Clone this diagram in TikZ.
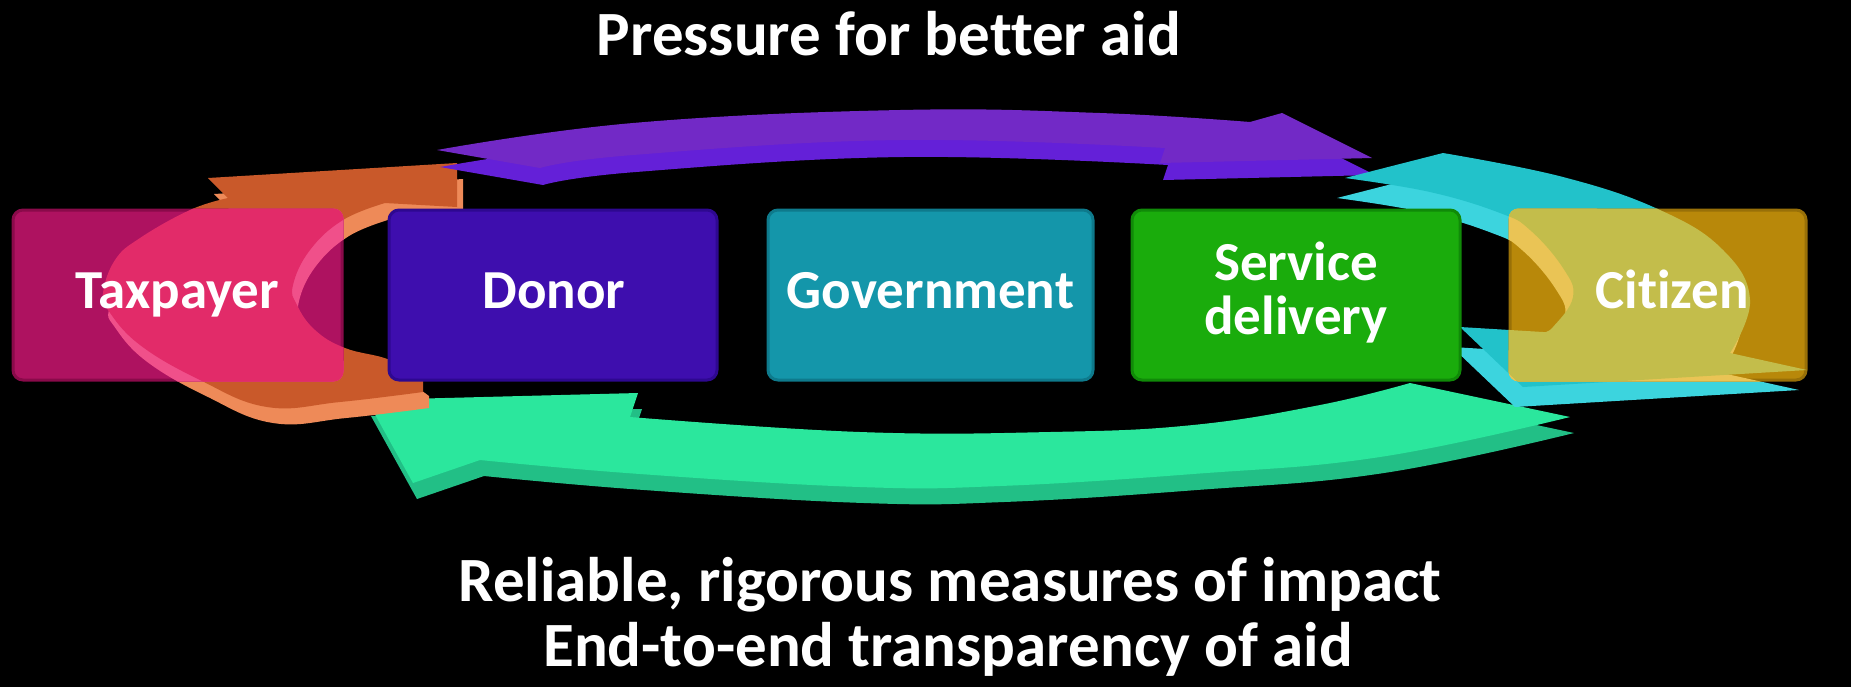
\documentclass[tikz,border=0pt]{standalone}
\usepackage{fontspec}
\setmainfont{Carlito}[Ligatures=NoCommon]
\definecolor{taxc}{HTML}{AE1260}
\definecolor{taxd}{HTML}{8A0A4A}
\definecolor{donc}{HTML}{3E0EAE}
\definecolor{dond}{HTML}{2E0890}
\definecolor{govc}{HTML}{1496AA}
\definecolor{govd}{HTML}{0E7A8C}
\definecolor{svcc}{HTML}{1AAC0C}
\definecolor{svcd}{HTML}{108A08}
\definecolor{citc}{HTML}{B8880A}
\definecolor{citd}{HTML}{987008}
\definecolor{grtop}{HTML}{2BE79D}
\definecolor{grside}{HTML}{22BF86}
\definecolor{putop}{HTML}{7229C6}
\definecolor{puside}{HTML}{6420D8}
\definecolor{ortop}{HTML}{C9592A}
\definecolor{orside}{HTML}{EE8A58}
\definecolor{cytop}{HTML}{22C2CA}
\definecolor{cyside}{HTML}{3CD4DE}
\definecolor{pinktop}{HTML}{E22B69}
\definecolor{pinkside}{HTML}{F0508A}
\definecolor{olivetop}{HTML}{C3BD4B}
\definecolor{oliveside}{HTML}{EAC455}
\begin{document}
\begin{tikzpicture}[x=0.5pt,y=-0.5pt,
  box/.style={rounded corners=5pt, minimum height=85pt, inner sep=0pt, line width=1.5pt},
  lbl/.style={text=white, font=\fontsize{27.5}{30}\selectfont\bfseries, anchor=base, inner sep=0pt},
  ttl/.style={text=white, font=\fontsize{31.5}{34}\selectfont\bfseries, anchor=base, inner sep=0pt}]
\useasboundingbox (0,0) rectangle (1851,687);
\fill[black] (0,0) rectangle (1851,687);

\def\greenpath{(367,400) -- (638,393) -- (630,417) -- plot[smooth,tension=0.7] coordinates {(630,417) (860,432) (1050,432) (1193,425) (1320,405) (1410,383)} -- (1570,417) -- plot[smooth,tension=0.7] coordinates {(1570,417) (1380,457) (1193,474) (1000,486) (860,487) (640,474) (480,460)} -- (413,483) -- cycle}
\def\purplepath{(437,150) -- plot[smooth,tension=0.7] coordinates {(437,150) (633,123) (900,110) (1100,113) (1250,122)} -- (1282,113) -- (1372,158) -- (1160,163) -- (1165,148) -- plot[smooth,tension=0.7] coordinates {(1165,148) (900,140) (633,155) (540,168)} -- cycle}
\def\orangepath{(208,178) -- (457,163) -- (457,207) -- (385,203) -- plot[smooth,tension=0.7] coordinates {(385,203) (343,220) (310,250) (293,285) (297,305) (315,330) (345,348) (390,360) (423,380)} -- (423,392) -- plot[smooth,tension=0.7] coordinates {(423,392) (340,402) (267,407) (200,380) (140,345) (108,310) (103,293) (115,260) (140,238) (190,210) (228,198)} -- cycle}
\def\cyanpath{(1345,178) -- (1443,153) -- plot[smooth,tension=0.7] coordinates {(1443,153) (1563,177) (1660,210) (1723,250) (1750,300) (1730,353)} -- (1807,370) -- (1523,387) -- (1460,327) -- (1543,332) -- plot[smooth,tension=0.7] coordinates {(1543,332) (1553,327) (1573,297) (1563,268) (1530,230) (1500,213) (1430,192) (1345,178)} -- cycle}

% arrows
\fill[grside, shift={(4,16)}] \greenpath;
\fill[grtop] \greenpath;
\fill[orside, shift={(6,16)}] \orangepath;
\fill[ortop] \orangepath;
\fill[puside, shift={(3,17)}] \purplepath;
\fill[putop] \purplepath;
\fill[cyside, shift={(-8,20)}] \cyanpath;
\fill[cytop] \cyanpath;

% boxes
\node[box, fill=taxc, draw=taxd, minimum width=164.5pt] (taxbox) at (177.5,295) {};
\node[box, fill=donc, draw=dond, minimum width=164pt] (donbox) at (553,295) {};
\node[box, fill=govc, draw=govd, minimum width=162.5pt] (govbox) at (930.5,295) {};
\node[box, fill=svcc, draw=svcd, minimum width=164pt] (svcbox) at (1296,295) {};
\node[box, fill=citc, draw=citd, minimum width=148pt] (citbox) at (1658,295) {};

% see-through overlaps
\begin{scope}
\clip[rounded corners=5pt] (taxbox.south west) rectangle (taxbox.north east);
\fill[pinkside, shift={(6,16)}] \orangepath;
\fill[pinktop] \orangepath;
\end{scope}
\begin{scope}
\clip[rounded corners=5pt] (citbox.south west) rectangle (citbox.north east);
\fill[oliveside, shift={(-8,20)}] \cyanpath;
\fill[olivetop] \cyanpath;
\end{scope}

% labels
\node[lbl] (tax) at (177.5,308) {Taxpayer};
\node[lbl] (don) at (554,308) {Donor};
\node[lbl] (gov) at (930.5,308) {Government};
\node[lbl] (svc1) at (1296,280) {Service};
\node[lbl] (svc2) at (1296,334) {delivery};
\node[lbl] (cit) at (1672,308) {Citizen};

\node[ttl] (title) at (889,55) {Pressure for better aid};
\node[ttl] (m1) at (950,601) {Reliable, rigorous measures of impact};
\node[ttl] (m2) at (948,666) {End-to-end transparency of aid};
\end{tikzpicture}
\end{document}
